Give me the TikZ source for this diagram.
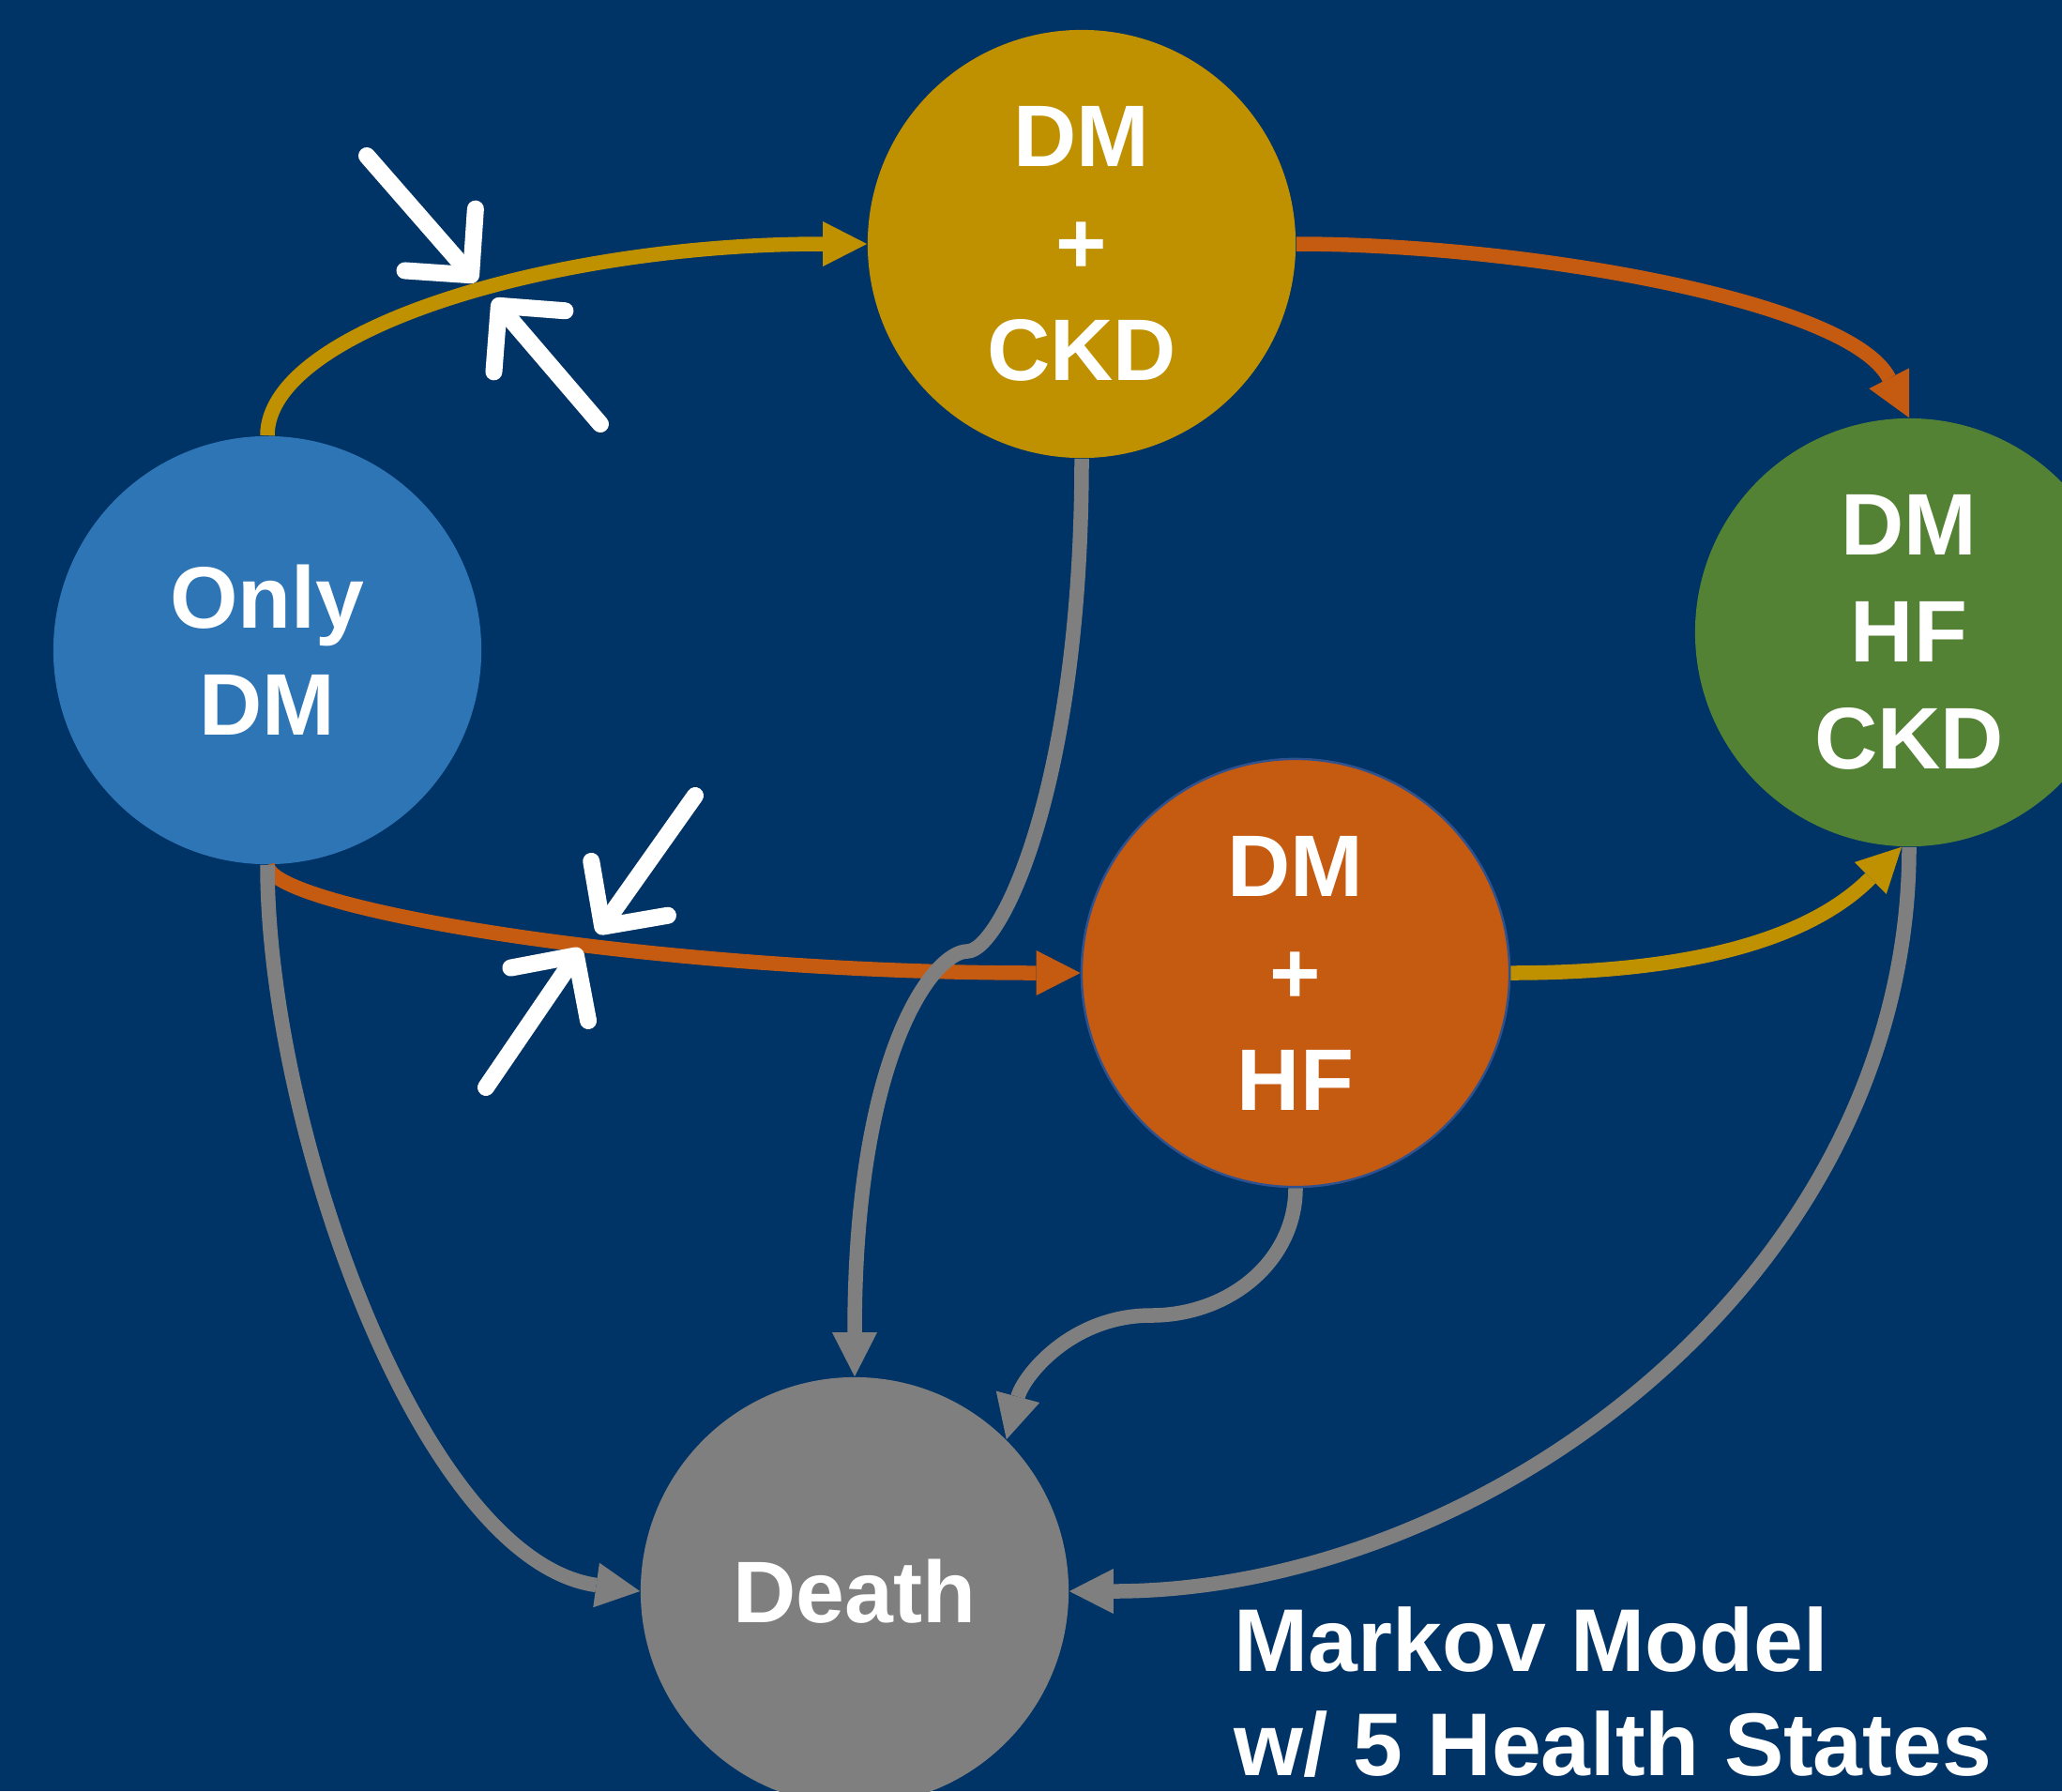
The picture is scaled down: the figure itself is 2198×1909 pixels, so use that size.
\documentclass[tikz,border=0pt]{standalone}
\usepackage{fontspec}
\setmainfont{Liberation Sans}
\usetikzlibrary{arrows.meta}

\definecolor{slidebg}{RGB}{0,51,102}
\definecolor{onlyblue}{RGB}{46,117,182}
\definecolor{ckdgold}{RGB}{191,144,0}
\definecolor{hfgreen}{RGB}{84,130,53}
\definecolor{hforange}{RGB}{197,90,17}
\definecolor{deathgray}{RGB}{127,127,127}
\definecolor{rimblue}{RGB}{47,82,143}

\tikzset{
  state/.style={circle, minimum size=4.56cm, inner sep=0pt, text=white, align=center,
    font=\fontsize{26.5pt}{32.4pt}\selectfont\bfseries},
  flow/.style={line width=0.155cm, -{Triangle[length=0.47cm, width=0.48cm, line width=0pt]}},
  pinch/.style={white, line width=0.18cm, line cap=round,
    -{Straight Barb[length=0.5cm, width=1cm, round]}},
  title/.style={anchor=base west, inner sep=0pt, text=white,
    font=\fontsize{27pt}{32pt}\selectfont\bfseries}
}

\begin{document}
\begin{tikzpicture}[x=0.01cm, y=-0.01cm]
\fill[slidebg] (0,0) rectangle (2198,1909);
\useasboundingbox (0,0) rectangle (2198,1909);
\clip (0,0) rectangle (2198,1909);

\node[state, fill=onlyblue] (onlydm) at (285,693) {Only\\DM};
\node[state, fill=ckdgold] (dmckd) at (1153,260) {DM\\+\\CKD};
\node[state, fill=hfgreen] (dmhfckd) at (2035,674) {DM\\HF\\CKD};
\node[state, fill=hforange, draw=rimblue, line width=0.7pt] (dmhf) at (1381,1037) {DM\\+\\HF};
\node[state, fill=deathgray] (death) at (911,1696) {Death};

\coordinate (ckdbend) at (1031,1014);
\coordinate (hfbend) at (1227,1402);

\draw[flow, ckdgold] (onlydm.north) to[out=90, in=180, out distance=1.12cm, in distance=3.36cm] (dmckd.west);
\draw[flow, hforange] (dmckd.east) to[out=0, in=117, out distance=2.4cm, in distance=1.4cm] (dmhfckd.north);
\draw[flow, hforange] (onlydm.south) to[out=-90, in=180, out distance=0.46cm, in distance=4.54cm] (dmhf.west);
\draw[flow, ckdgold] (dmhf.east) to[out=0, in=225, out distance=2.16cm, in distance=1.26cm] (dmhfckd.268);

\draw[flow, deathgray] (dmckd.south) to[out=-90, in=0, out distance=3.5cm, in distance=0.35cm] (ckdbend)
  to[out=180, in=90, out distance=0.35cm, in distance=3.46cm] (death.north);
\draw[flow, deathgray] (onlydm.south) to[out=-90, in=172, out distance=2.8cm, in distance=2.35cm] (death.west);
\draw[flow, deathgray] (dmhf.south) to[out=-90, in=0, out distance=0.77cm, in distance=0.84cm] (hfbend)
  to[out=180, in=75, out distance=0.85cm, in distance=0.7cm] (death.45);
\draw[flow, deathgray] (dmhfckd.south) to[out=-90, in=0, out distance=4.6cm, in distance=4.4cm] (death.east);

\coordinate (pinchA1) at (391,166);
\coordinate (pinchA2) at (640,452);
\coordinate (pinchB1) at (741,848);
\coordinate (pinchB2) at (518,1159);
\draw[pinch] (pinchA1) -- (508,300);
\draw[pinch] (pinchA2) -- (526,319);
\draw[pinch] (pinchB1) -- (637,995);
\draw[pinch] (pinchB2) -- (619,1011);

\node[title] (markov) at (1315,1781) {Markov Model};
\node[title] (states) at (1315,1892) {w/ 5 Health States};
\end{tikzpicture}
\end{document}
